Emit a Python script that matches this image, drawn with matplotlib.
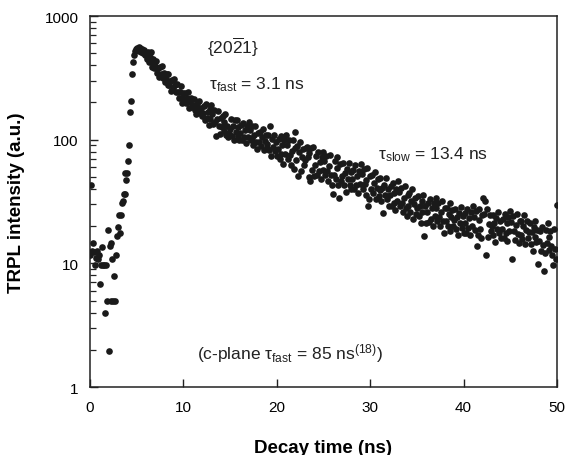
import matplotlib
matplotlib.use("Agg")
import matplotlib.pyplot as plt
from matplotlib.ticker import LogLocator, NullFormatter, FixedLocator

plt.rcParams['font.family'] = ['Liberation Sans', 'DejaVu Sans']
plt.rcParams['mathtext.fontset'] = 'custom'
plt.rcParams['mathtext.rm'] = 'Liberation Sans'
plt.rcParams['mathtext.it'] = 'Liberation Sans:italic'
plt.rcParams['mathtext.bf'] = 'Liberation Sans:bold'

# ---- data ----
rise_time = [0.0, 0.1, 0.2, 0.3, 0.4, 0.5, 0.6, 0.7, 0.8, 0.9,
             1.0, 1.1, 1.2, 1.3, 1.4, 1.5, 1.6, 1.7, 1.8, 1.9,
             2.0, 2.1, 2.2, 2.3, 2.4, 2.5, 2.6, 2.7, 2.8, 2.9,
             3.0, 3.1, 3.2, 3.3, 3.4, 3.5, 3.6, 3.7, 3.8, 3.9,
             4.0, 4.1, 4.2, 4.3, 4.4, 4.5, 4.6, 4.7, 4.8, 4.9, 5.0]
rise_intensity = [11.7, 43, 12.5, 14.6, 12.4, 9.7, 11.0, 12.5, 11.0, 10.8,
                  11.7, 6.8, 9.7, 13.6, 9.7, 9.7, 4.0, 9.7, 5.0, 18.6,
                  1.95, 13.7, 14.6, 5.0, 10.8, 5.0, 7.85, 5.0, 11.7, 16.5,
                  19.5, 24.4, 17.6, 24.4, 31, 32, 36.5, 36.5, 54, 47,
                  54, 67, 90, 168, 204, 339, 422, 480, 520, 545, 550]

decay_time = [
    5.1, 5.2, 5.3, 5.4, 5.5, 5.6, 5.7, 5.8, 5.9, 6.0,
    6.1, 6.2, 6.3, 6.4, 6.5, 6.6, 6.7, 6.8, 6.9, 7.0,
    7.1, 7.2, 7.3, 7.4, 7.5, 7.6, 7.7, 7.8, 7.9, 8.0,
    8.1, 8.2, 8.3, 8.4, 8.5, 8.6, 8.7, 8.8, 8.9, 9.0,
    9.1, 9.2, 9.3, 9.4, 9.5, 9.6, 9.7, 9.8, 9.9, 10.0,
    10.1, 10.2, 10.3, 10.4, 10.5, 10.6, 10.7, 10.8, 10.9, 11.0,
    11.1, 11.2, 11.3, 11.4, 11.5, 11.6, 11.7, 11.8, 11.9, 12.0,
    12.1, 12.2, 12.3, 12.4, 12.5, 12.6, 12.7, 12.8, 12.9, 13.0,
    13.1, 13.2, 13.3, 13.4, 13.5, 13.6, 13.7, 13.8, 13.9, 14.0,
    14.1, 14.2, 14.3, 14.4, 14.5, 14.6, 14.7, 14.8, 14.9, 15.0,
    15.1, 15.2, 15.3, 15.4, 15.5, 15.6, 15.7, 15.8, 15.9, 16.0,
    16.1, 16.2, 16.3, 16.4, 16.5, 16.6, 16.7, 16.8, 16.9, 17.0,
    17.1, 17.2, 17.3, 17.4, 17.5, 17.6, 17.7, 17.8, 17.9, 18.0,
    18.1, 18.2, 18.3, 18.4, 18.5, 18.6, 18.7, 18.8, 18.9, 19.0,
    19.1, 19.2, 19.3, 19.4, 19.5, 19.6, 19.7, 19.8, 19.9, 20.0,
    20.1, 20.2, 20.3, 20.4, 20.5, 20.6, 20.7, 20.8, 20.9, 21.0,
    21.1, 21.2, 21.3, 21.4, 21.5, 21.6, 21.7, 21.8, 21.9, 22.0,
    22.1, 22.2, 22.3, 22.4, 22.5, 22.6, 22.7, 22.8, 22.9, 23.0,
    23.1, 23.2, 23.3, 23.4, 23.5, 23.6, 23.7, 23.8, 23.9, 24.0,
    24.1, 24.2, 24.3, 24.4, 24.5, 24.6, 24.7, 24.8, 24.9, 25.0,
    25.1, 25.2, 25.3, 25.4, 25.5, 25.6, 25.7, 25.8, 25.9, 26.0,
    26.1, 26.2, 26.3, 26.4, 26.5, 26.6, 26.7, 26.8, 26.9, 27.0,
    27.1, 27.2, 27.3, 27.4, 27.5, 27.6, 27.7, 27.8, 27.9, 28.0,
    28.1, 28.2, 28.3, 28.4, 28.5, 28.6, 28.7, 28.8, 28.9, 29.0,
    29.1, 29.2, 29.3, 29.4, 29.5, 29.6, 29.7, 29.8, 29.9, 30.0,
    30.1, 30.2, 30.3, 30.4, 30.5, 30.6, 30.7, 30.8, 30.9, 31.0,
    31.1, 31.2, 31.3, 31.4, 31.5, 31.6, 31.7, 31.8, 31.9, 32.0,
    32.1, 32.2, 32.3, 32.4, 32.5, 32.6, 32.7, 32.8, 32.9, 33.0,
    33.1, 33.2, 33.3, 33.4, 33.5, 33.6, 33.7, 33.8, 33.9, 34.0,
    34.1, 34.2, 34.3, 34.4, 34.5, 34.6, 34.7, 34.8, 34.9, 35.0,
    35.1, 35.2, 35.3, 35.4, 35.5, 35.6, 35.7, 35.8, 35.9, 36.0,
    36.1, 36.2, 36.3, 36.4, 36.5, 36.6, 36.7, 36.8, 36.9, 37.0,
    37.1, 37.2, 37.3, 37.4, 37.5, 37.6, 37.7, 37.8, 37.9, 38.0,
    38.1, 38.2, 38.3, 38.4, 38.5, 38.6, 38.7, 38.8, 38.9, 39.0,
    39.1, 39.2, 39.3, 39.4, 39.5, 39.6, 39.7, 39.8, 39.9, 40.0,
    40.1, 40.2, 40.3, 40.4, 40.5, 40.6, 40.7, 40.8, 40.9, 41.0,
    41.1, 41.2, 41.3, 41.4, 41.5, 41.6, 41.7, 41.8, 41.9, 42.0,
    42.1, 42.2, 42.3, 42.4, 42.5, 42.6, 42.7, 42.8, 42.9, 43.0,
    43.1, 43.2, 43.3, 43.4, 43.5, 43.6, 43.7, 43.8, 43.9, 44.0,
    44.1, 44.2, 44.3, 44.4, 44.5, 44.6, 44.7, 44.8, 44.9, 45.0,
    45.1, 45.2, 45.3, 45.4, 45.5, 45.6, 45.7, 45.8, 45.9, 46.0,
    46.1, 46.2, 46.3, 46.4, 46.5, 46.6, 46.7, 46.8, 46.9, 47.0,
    47.1, 47.2, 47.3, 47.4, 47.5, 47.6, 47.7, 47.8, 47.9, 48.0,
    48.1, 48.2, 48.3, 48.4, 48.5, 48.6, 48.7, 48.8, 48.9, 49.0,
    49.1, 49.2, 49.3, 49.4, 49.5, 49.6, 49.7, 49.8, 49.9, 50.0]

decay_intensity = [
    540, 565, 525, 555, 510, 545, 500, 530, 480, 505,
    452, 509, 421, 465, 509, 384, 423, 453, 381, 394,
    431, 349, 381, 319, 385, 342, 394, 315, 347, 291,
    312, 337, 276, 338, 277, 297, 249, 302, 261, 310,
    276, 241, 282, 241, 219, 245, 270, 219, 199, 239,
    210, 238, 198, 219, 241, 182, 203, 218, 185, 192,
    214, 174, 192, 162, 196, 176, 204, 165, 182, 154,
    165, 188, 143, 196, 149, 168, 131, 178, 146, 191,
    162, 134, 174, 138, 108, 147, 171, 129, 112, 151,
    127, 154, 118, 140, 162, 109, 129, 105, 114, 123,
    146, 108, 128, 99, 144, 116, 145, 107, 127, 99,
    113, 131, 100, 137, 106, 120, 94, 129, 106, 139,
    120, 99, 129, 103, 90, 110, 128, 96, 84, 113,
    95, 116, 89, 105, 123, 82, 97, 110, 86, 93,
    110, 82, 129, 74, 102, 87, 109, 81, 95, 74,
    84, 101, 70, 107, 76, 90, 64, 99, 76, 109,
    90, 70, 99, 75, 62, 81, 100, 57.6, 116, 86,
    69, 89, 50.6, 79, 96, 56, 72, 84, 62, 68,
    85, 87, 72, 50, 78, 46.6, 86, 57, 87, 51,
    62, 74, 52, 79, 56, 66, 48, 73, 57, 80,
    67, 52, 74, 56, 46, 61, 75, 52, 43, 36.3,
    52, 67, 48, 59, 73, 43, 34, 64, 46, 51,
    65, 43, 54, 38, 58, 48, 65, 43, 55, 40,
    48, 57, 40, 62, 43, 51, 37, 56, 44, 63,
    53, 40, 58, 44, 36, 47, 59, 29, 33, 51,
    40, 52, 37, 45, 55, 33, 41, 48, 35, 39,
    49, 32, 41, 25.4, 43, 36, 49, 33, 40, 29,
    36, 42, 29, 45, 31, 37, 27, 40, 32, 46,
    38, 29, 41, 31, 26, 34, 42, 28, 24, 36,
    29, 37, 26, 32, 40, 23, 30, 34, 25, 28,
    35, 24, 29, 21, 32, 26, 36, 16.5, 29, 21,
    26, 31, 21.5, 33, 23, 28, 20, 31, 24, 34,
    28, 22, 31, 23.5, 20, 26, 32, 22, 17.6, 28,
    22, 28, 20, 25, 31, 18.3, 23.5, 27, 20, 22.5,
    27.5, 19, 23.5, 16.8, 25.6, 21, 28.5, 19.2, 24, 17.5,
    21, 25.3, 17.7, 27.4, 19.4, 23.3, 16.8, 25.9, 20.2, 29,
    23.8, 18.7, 26.5, 13.8, 17, 22.3, 27.5, 19, 16.1, 24.4,
    34, 25, 32, 11.7, 27.5, 16.2, 20.8, 24.5, 18.1, 20.2,
    24.8, 16.8, 21.1, 15, 23.1, 19.1, 26, 17.5, 22.1, 16,
    19, 23, 16, 25, 17.6, 21.2, 15.2, 23.6, 18.4, 26.5,
    21.6, 10.8, 24.1, 18.3, 15.4, 20.3, 25, 17.4, 14.7, 22.2,
    17, 22.2, 15.7, 20, 24.4, 14.4, 18.5, 21.8, 16.1, 17.9,
    21, 14.3, 17.9, 12.7, 19.6, 16.2, 22, 14.8, 18.7, 9.9,
    15.1, 18.2, 12.7, 19.8, 14, 8.7, 12.1, 18.7, 14.6, 21,
    16.2, 12.8, 18.1, 13.8, 11.6, 9.7, 18.9, 13, 10.8, 29.6]

x_ticks = [0, 10, 20, 30, 40, 50]
y_ticks = [1, 10, 100, 1000]
y_tick_labels = ['1', '10', '100', '1000']

# ---- figure ----
fig = plt.figure(figsize=(5.67, 4.56), dpi=100)
ax = fig.add_axes([0.1587, 0.1491, 0.8236, 0.8136])

ax.scatter(rise_time + decay_time, rise_intensity + decay_intensity,
           s=23, color='#1a1a1a', linewidths=0, zorder=3)

ax.set_yscale('log')
ax.set_xlim(0, 50)
ax.set_ylim(1, 1000)

ax.xaxis.set_major_locator(FixedLocator(x_ticks))
ax.set_xticklabels([str(v) for v in x_ticks])
ax.yaxis.set_major_locator(FixedLocator(y_ticks))
ax.set_yticklabels(y_tick_labels)
ax.yaxis.set_minor_locator(LogLocator(base=10, subs=range(2, 10)))
ax.yaxis.set_minor_formatter(NullFormatter())

for s in ax.spines.values():
    s.set_linewidth(1.1)
    s.set_color('#222222')

ax.tick_params(axis='both', which='major', direction='in', length=6, width=1.0,
               labelsize=11, color='#222222', top=False, right=False)
ax.tick_params(axis='y', which='minor', direction='in', length=4.5, width=0.9,
               color='#222222', right=False)
ax.tick_params(axis='x', which='major', pad=9)
ax.tick_params(axis='y', which='major', pad=8)

ax.set_xlabel('Decay time (ns)', fontsize=13.5, fontweight='bold', labelpad=18)
ax.set_ylabel('TRPL intensity (a.u.)', fontsize=13.5, fontweight='bold', labelpad=14)

ax.text(0.250, 0.918, r'{20$\mathregular{\overline{2}}$1}', transform=ax.transAxes,
        fontsize=12.5, ha='left', va='center', color='#222222')
ax.text(0.255, 0.818, r'$\mathregular{\tau_{fast}}$ = 3.1 ns', transform=ax.transAxes,
        fontsize=12.5, ha='left', va='center', color='#222222')
ax.text(0.616, 0.628, r'$\mathregular{\tau_{slow}}$ = 13.4 ns', transform=ax.transAxes,
        fontsize=12.5, ha='left', va='center', color='#222222')
ax.text(0.229, 0.092, r'(c-plane $\mathregular{\tau_{fast}}$ = 85 ns$^{\mathregular{(18)}}$)',
        transform=ax.transAxes, fontsize=12.5, ha='left', va='center', color='#222222')

fig.savefig('out.png', dpi=100)
